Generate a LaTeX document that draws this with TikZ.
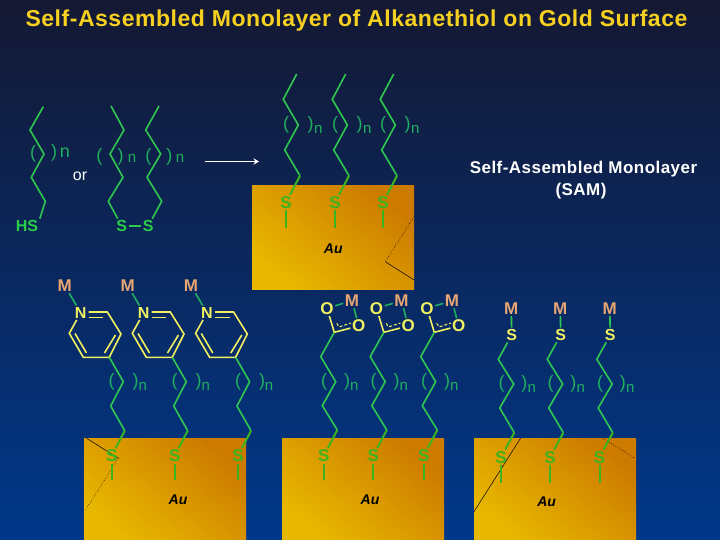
\documentclass[tikz,border=0pt]{standalone}
\usepackage{xcolor}
\usepackage{fontspec}
\setmainfont{Liberation Sans}
\usepackage{tikz}
\usetikzlibrary{arrows.meta}
\definecolor{bgtop}{HTML}{141833}
\definecolor{bgmid}{HTML}{0B2C6E}
\definecolor{bgbot}{HTML}{00388A}
\definecolor{goldA}{HTML}{E8B800}
\definecolor{goldB}{HTML}{CC7A00}
\definecolor{titlecol}{HTML}{F5D020}
\definecolor{chaincol}{HTML}{2EC850}
\definecolor{parencol}{HTML}{1FB060}
\definecolor{augreen}{HTML}{3CB420}
\definecolor{metalcol}{HTML}{E8A574}
\definecolor{ringcol}{HTML}{F0F060}
\tikzset{
 surf/.style={top color=goldB,bottom color=goldA,shading angle=-40},
 chain/.style={chaincol,line width=1.6pt,line join=miter},
 ring/.style={ringcol,line width=1.6pt},
 augr/.style={augreen,line width=2pt},
 thinline/.style={black,line width=0.5pt},
 dotline/.style={black,line width=0.6pt,dotted},
 atom/.style={inner sep=1.5pt,font=\fontsize{16}{18}\selectfont\bfseries},
 ausulf/.style={inner sep=1.5pt,augreen,font=\fontsize{17}{19}\selectfont\bfseries},
 metal/.style={atom,metalcol,font=\fontsize{17}{19}\selectfont\bfseries},
 ylw/.style={atom,ringcol},
 grn/.style={atom,color=chaincol!90!green},
 par/.style={parencol,inner sep=0pt,font=\fontsize{18}{20}\selectfont},
 idx/.style={parencol,inner sep=0pt,font=\fontsize{15}{17}\selectfont},
 aulabel/.style={black,inner sep=0pt,font=\fontsize{14}{16}\selectfont\bfseries\itshape},
}
\begin{document}
\begin{tikzpicture}[x=1pt,y=-1pt,=>stealth]
\shade[top color=bgtop,middle color=bgmid,bottom color=bgbot](0,0)rectangle(720,540);
\useasboundingbox(0,0)rectangle(720,540);
\node[titlecol,inner sep=0pt,font=\fontsize{23}{26}\selectfont\bfseries\addfontfeatures{LetterSpace=2.3}](title)at(356.5,20.5){Self-Assembled Monolayer of Alkanethiol on Gold Surface};
\node[white,inner sep=0pt,font=\fontsize{17}{20}\selectfont\bfseries\addfontfeatures{LetterSpace=2.7}](sam)at(583.5,169){Self-Assembled Monolayer};
\node[white,inner sep=0pt,font=\fontsize{17}{20}\selectfont\bfseries\addfontfeatures{LetterSpace=2.7}](sam2)at(581,191){(SAM)};
% starting thiol and disulfide
\node[grn](hs)at(27,226){HS};
\node[grn](ss1)at(121.7,226){S};
\node[grn](ss2)at(148.3,226){S};
\draw[chain](43.3,106.7)--(30,130)--(44,154)--(31.3,177.3)--(45.3,201.3)--(hs.north east);
\draw[chain](111,106)--(124,130)--(110,154)--(123,177.3)--(108.3,201.3)--(ss1);
\draw[chain](159,106)--(145.7,130)--(160.7,154)--(147,177.3)--(161.7,201.3)--(ss2);
\draw[chain](ss1)--(ss2);
\node[par](p1)at(33,154){(};
\node[par](p2)at(54,153){)};
\node[idx,font=\fontsize{18}{20}\selectfont](n1)at(65,153){n};
\node[par](p3)at(99.3,157){(};
\node[par](p4)at(120.7,157){)};
\node[idx](n2)at(132,158){n};
\node[par](p5)at(148.3,157){(};
\node[par](p6)at(169.3,157){)};
\node[idx](n3)at(180,158){n};
\node[white,inner sep=0pt,font=\fontsize{16}{18}\selectfont](orlabel)at(80,176){or};
\coordinate(arrA)at(205,161.5);
\coordinate(arrB)at(259,161.5);
\draw[-{Stealth[length=5.5pt,width=6.5pt]},white,line width=1.8pt](arrA)--(arrB);
% gold surfaces
\shade[surf](252,186)rectangle(414,289);
\shade[surf](84,438)rectangle(246,540);
\shade[surf](282,438)rectangle(444,540);
\shade[surf](474,438)rectangle(636,540);
\draw[dotline](414,216.7)--(385.3,261.7);
\draw[thinline](385.3,261.7)--(414,280);
\draw[thinline](86.7,438.3)--(118.3,458.3);
\draw[dotline](118.3,458.3)--(85,510.7);
\draw[thinline](520.7,438)--(474,511.7);
\draw[dotline](602.3,438)--(635,458.3);
\node[aulabel](au1)at(333.3,249){Au};
\node[aulabel](au2)at(178,500){Au};
\node[aulabel](au3)at(370,500){Au};
\node[aulabel](au4)at(546.7,501.7){Au};
% monolayer on gold
\foreach \i/\d in {1/0,2/49,3/97}{
\begin{scope}[xshift=\d]
\node[ausulf](sa\i)at(286,202.7){S};
\draw[chain](296.7,74)--(283.3,99.3)--(298.3,125)--(284.7,150)--(300,175.7);
\draw[augr](300,175.7)--(sa\i);
\draw[augr,line width=1.5pt](sa\i)--++(0,25.6);
\node[par](pa\i)at(286,125){(};
\node[par](qa\i)at(310.7,125){)};
\node[idx](na\i)at(318.3,129){n};
\end{scope}
}
% pyridine terminated
\foreach \i/\d in {1/0,2/63,3/126.3}{
\begin{scope}[xshift=\d]
\node[metal](mb\i)at(64.7,285.7){M};
\node[ylw](nb\i)at(80.7,312.7){N};
\draw[chain,parencol](mb\i)--(nb\i);
\draw[ring](88.7,312)--(107.3,312)--(121,334)--(109.3,357.3)--(83.3,357.3)--(69.3,333.3)--(nb\i);
\draw[ring](88.7,317.3)--(103.3,317.3);
\draw[ring](115.5,335)--(104.5,353);
\draw[ring](75,333.5)--(86.5,353);
\draw[chain](109.3,357.3)--(123.3,381.7)--(110.7,406)--(124.7,430.7);
\node[ausulf](sb\i)at(111.7,456){S};
\draw[augr](124.7,430.7)--(sb\i);
\draw[augr](sb\i)--++(0,24);
\node[par](pb\i)at(111.7,381.7){(};
\node[par](qb\i)at(135.7,381.7){)};
\node[idx](nn\i)at(142.7,386){n};
\end{scope}
}
% carboxylate terminated
\foreach \i/\d in {1/0,2/49.5,3/100}{
\begin{scope}[xshift=\d]
\node[metal](mc\i)at(352,300.7){M};
\node[ylw,font=\fontsize{17}{19}\selectfont\bfseries](oa\i)at(327,308.3){O};
\node[ylw,font=\fontsize{17}{19}\selectfont\bfseries](ob\i)at(358.7,326){O};
\coordinate(cc\i)at(334.3,332.3);
\draw[ring](oa\i)--(cc\i)--(ob\i);
\draw[ring,line width=1pt,dash pattern=on 3pt off 2pt](336.7,323.3)--(339,327)--(351,323);
\draw[chain,parencol](oa\i)--(mc\i);
\draw[chain,parencol](mc\i)--(ob\i);
\draw[chain](cc\i)--(320.7,356.7)--(335.7,381.7)--(322.3,405.7)--(337.3,430);
\node[ausulf](sc\i)at(323.7,456){S};
\draw[augr](337.3,430)--(sc\i);
\draw[augr](sc\i)--++(0,23.5);
\node[par](pc\i)at(324,381.7){(};
\node[par](qc\i)at(347,381.7){)};
\node[idx](nc\i)at(354.3,386.7){n};
\end{scope}
}
% thiol terminated
\foreach \i/\d in {1/0,2/49,3/98.5}{
\begin{scope}[xshift=\d]
\node[metal](md\i)at(511.3,308.3){M};
\node[ylw](td\i)at(511.7,335){S};
\draw[chain](md\i)--(td\i);
\draw[chain](td\i)--(498.3,359.3)--(513.7,384)--(499.7,408)--(514.3,432.7);
\node[ausulf](sd\i)at(501,457.3){S};
\draw[augr](514.3,432.7)--(sd\i);
\draw[augr](sd\i)--++(0,25.4);
\node[par](pd\i)at(501.7,384){(};
\node[par](qd\i)at(524.3,384){)};
\node[idx](nd\i)at(531.7,388){n};
\end{scope}
}
\end{tikzpicture}
\end{document}
